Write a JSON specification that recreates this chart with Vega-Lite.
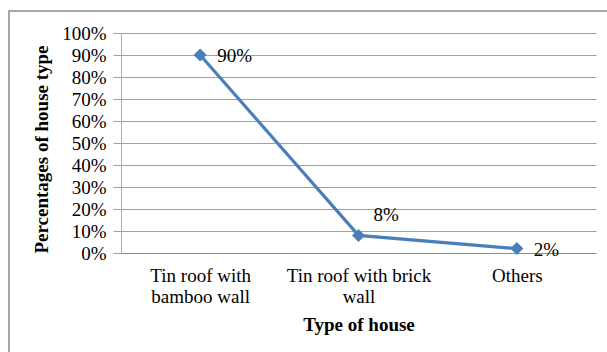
{
  "$schema": "https://vega.github.io/schema/vega-lite/v6.json",
  "autosize": "none",
  "padding": {"left": 9, "top": 11, "right": 0, "bottom": 0},
  "width": 600,
  "height": 345,
  "background": "white",
  "config": {
    "view": {"stroke": "#8c8c8c", "strokeWidth": 1.5},
    "axis": {
      "labelFont": "Liberation Serif",
      "titleFont": "Liberation Serif",
      "labelFontSize": 19,
      "titleFontSize": 19,
      "labelColor": "#000000",
      "titleColor": "#000000",
      "titleFontWeight": "bold"
    }
  },
  "data": {
    "values": [
      {"house": "Tin roof with bamboo wall", "share": 0.90},
      {"house": "Tin roof with brick wall", "share": 0.08},
      {"house": "Others", "share": 0.02}
    ]
  },
  "encoding": {
    "x": {
      "field": "house",
      "type": "nominal",
      "sort": null,
      "scale": {"type": "point", "padding": 0.5, "range": [112, 587]},
      "axis": {
        "title": "Type of house",
        "offset": -103,
        "labelAngle": 0,
        "ticks": false,
        "tickSize": 0,
        "grid": false,
        "labelPadding": 13,
        "labelLineHeight": 21,
        "labelExpr": "datum.value === 'Tin roof with bamboo wall' ? ['Tin roof with', 'bamboo wall'] : datum.value === 'Tin roof with brick wall' ? ['Tin roof with brick', 'wall'] : datum.value",
        "domainColor": "#8c8c8c",
        "domainWidth": 1.2,
        "titleY": 77,
        "titleBaseline": "alphabetic"
      }
    },
    "y": {
      "field": "share",
      "type": "quantitative",
      "scale": {"domain": [0, 1], "range": [242, 22], "nice": false},
      "axis": {
        "title": "Percentages of house type",
        "offset": -112,
        "values": [0, 0.1, 0.2, 0.3, 0.4, 0.5, 0.6, 0.7, 0.8, 0.9, 1],
        "format": ".0%",
        "grid": true,
        "gridColor": "#a0a0a0",
        "gridWidth": 1,
        "tickSize": 8,
        "tickColor": "#a0a0a0",
        "domainColor": "#b0b0b0",
        "labelPadding": 7,
        "labelBaseline": "middle",
        "titleAngle": -90,
        "titleX": -80,
        "titleY": 138,
        "titleAlign": "center",
        "titleBaseline": "middle"
      }
    }
  },
  "layer": [
    {
      "mark": {"type": "line", "color": "#4a7ebb", "strokeWidth": 3.2}
    },
    {
      "mark": {"type": "point", "shape": "diamond", "filled": true, "size": 170, "color": "#4a7ebb", "opacity": 1}
    },
    {
      "transform": [{"filter": "datum.house !== 'Tin roof with brick wall'"}],
      "mark": {"type": "text", "font": "Liberation Serif", "fontSize": 19, "align": "left", "baseline": "middle", "dx": 17, "dy": 1, "color": "#000000"},
      "encoding": {"text": {"field": "share", "type": "quantitative", "format": ".0%"}}
    },
    {
      "transform": [{"filter": "datum.house === 'Tin roof with brick wall'"}],
      "mark": {"type": "text", "font": "Liberation Serif", "fontSize": 19, "align": "left", "baseline": "middle", "dx": 15, "dy": -20, "color": "#000000"},
      "encoding": {"text": {"field": "share", "type": "quantitative", "format": ".0%"}}
    }
  ]
}
